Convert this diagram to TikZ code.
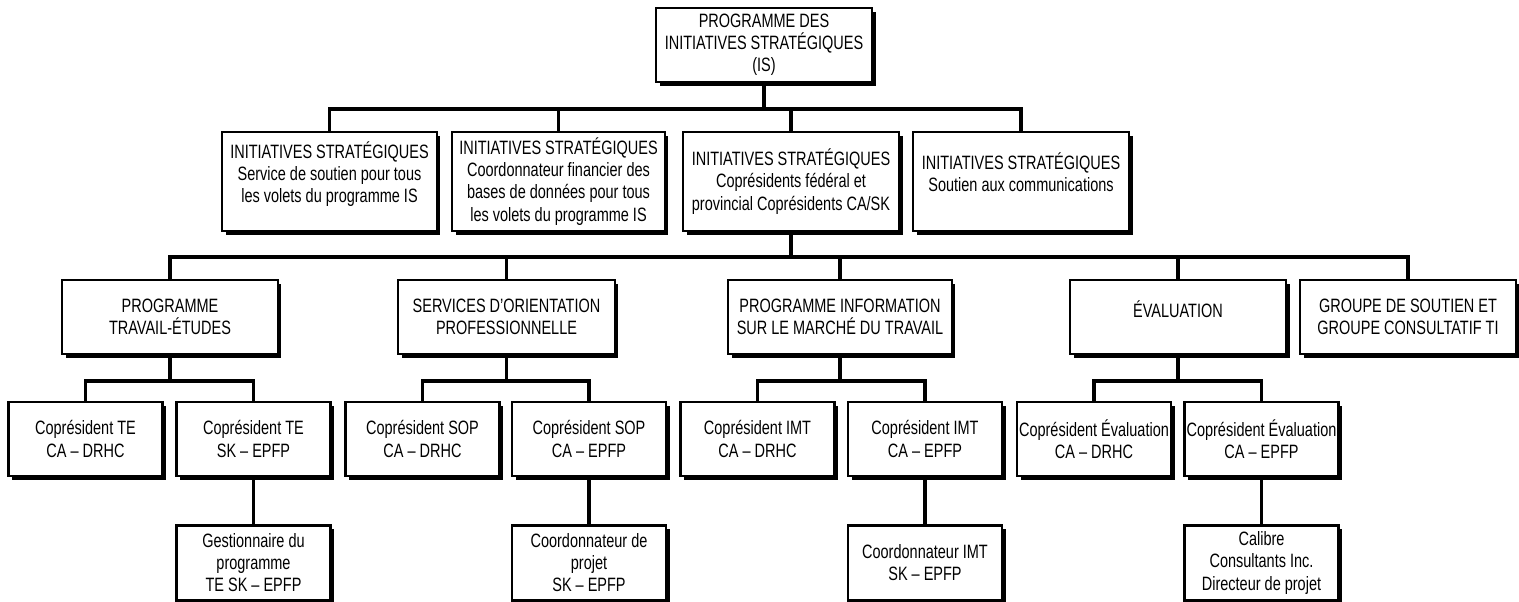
\documentclass[tikz,border=0pt]{standalone}
\usepackage{fontspec}
\setmainfont{Liberation Sans}[FakeStretch=0.75]
\usetikzlibrary{positioning,shadows}

\begin{document}
\begin{tikzpicture}[
    x=0.02cm, y=-0.02cm,
    font=\fontsize{11pt}{12.6pt}\selectfont,
    unit/.style={rectangle, draw=black, fill=white, line width=1.4pt, align=center, inner xsep=1pt, inner ysep=2pt,
        drop shadow={shadow xshift=2pt, shadow yshift=-2pt, fill=black, opacity=1}},
    chief/.style={unit, minimum width=4.32cm, minimum height=1.48cm},
    strand/.style={unit, minimum width=4.32cm, minimum height=1.98cm},
    stream/.style={unit, minimum width=4.32cm, minimum height=1.48cm},
    cochair/.style={unit, minimum width=3.08cm, minimum height=1.48cm},
    staff/.style={unit, minimum width=3.08cm, minimum height=1.5cm},
    link/.style={line width=2.2pt}
]
\useasboundingbox (0,0) rectangle (1519,602);

% Head of the programme
\node[chief] (is) at (764,45) {PROGRAMME DES\\INITIATIVES STRATÉGIQUES\\(IS)};

% Second level
\node[strand, minimum width=4.30cm] (supp) at (329.5,181.5) {INITIATIVES STRATÉGIQUES\\Service de soutien pour tous\\les volets du programme IS\\[-2pt]\mbox{}};
\node[strand, minimum width=4.26cm] (fin) at (558.5,181.5) {INITIATIVES STRATÉGIQUES\\Coordonnateur financier des\\bases de données pour tous\\les volets du programme IS};
\node[strand] (copres) at (791,181.5) {INITIATIVES STRATÉGIQUES\\Coprésidents fédéral et\\provincial Coprésidents CA/SK};
\node[strand] (comm) at (1021,181.5) {INITIATIVES STRATÉGIQUES\\Soutien aux communications\\[-2pt]\mbox{}};

% Programme streams
\node[stream] (te) at (170,317) {PROGRAMME\\TRAVAIL-ÉTUDES};
\node[stream, minimum width=4.34cm] (sop) at (506.5,317) {SERVICES D'ORIENTATION\\PROFESSIONNELLE};
\node[stream, minimum width=4.48cm] (imt) at (840,317) {PROGRAMME INFORMATION\\SUR LE MARCHÉ DU TRAVAIL};
\node[stream] (eval) at (1178,317) {ÉVALUATION\\[-4pt]\mbox{}};
\node[stream] (grp) at (1408,317) {GROUPE DE SOUTIEN ET\\GROUPE CONSULTATIF TI};

% Co-chairs
\node[cochair] (tedrhc) at (85.5,439) {Coprésident TE\\CA – DRHC};
\node[cochair] (teepfp) at (253.5,439) {Coprésident TE\\SK – EPFP};
\node[cochair] (sopdrhc) at (422.5,439) {Coprésident SOP\\CA – DRHC};
\node[cochair] (sopepfp) at (589,439) {Coprésident SOP\\CA – EPFP};
\node[cochair] (imtdrhc) at (757.5,439) {Coprésident IMT\\CA – DRHC};
\node[cochair] (imtepfp) at (925,439) {Coprésident IMT\\CA – EPFP};
\node[cochair] (evdrhc) at (1094,439) {Coprésident Évaluation\\CA – DRHC};
\node[cochair] (evepfp) at (1261.5,439) {Coprésident Évaluation\\CA – EPFP};

% Staff under the SK - EPFP co-chairs
\node[staff, below=0.94cm of teepfp] (gest) {Gestionnaire du\\programme\\TE SK – EPFP};
\node[staff, below=0.94cm of sopepfp] (coordsop) {Coordonnateur de\\projet\\SK – EPFP};
\node[staff, below=0.94cm of imtepfp] (coordimt) {Coordonnateur IMT\\SK – EPFP};
\node[staff, below=0.94cm of evepfp] (calibre) {Calibre\\Consultants Inc.\\Directeur de projet};

% Junctions
\coordinate (j1) at (764,109);
\coordinate (j2) at (791,257);
\coordinate (tebar) at (170,381);
\coordinate (sopbar) at (506.5,381);
\coordinate (imtbar) at (840,381);
\coordinate (evbar) at (1178,381);

% Tree lines
\draw[link] (is) -- (j1);
\draw[link] (supp) |- (j1) -| (comm);
\draw[link] (fin) -- (fin |- j1);
\draw[link] (copres) -- (copres |- j1);

\draw[link] (copres) -- (j2);
\draw[link] (te) |- (j2) -| (grp);
\draw[link] (sop) -- (sop |- j2);
\draw[link] (imt) -- (imt |- j2);
\draw[link] (eval) -- (eval |- j2);

\draw[link] (te) -- (tebar);
\draw[link] (tedrhc) |- (tebar) -| (teepfp);
\draw[link] (sop) -- (sopbar);
\draw[link] (sopdrhc) |- (sopbar) -| (sopepfp);
\draw[link] (imt) -- (imtbar);
\draw[link] (imtdrhc) |- (imtbar) -| (imtepfp);
\draw[link] (eval) -- (evbar);
\draw[link] (evdrhc) |- (evbar) -| (evepfp);

\draw[link] (teepfp) -- (gest);
\draw[link] (sopepfp) -- (coordsop);
\draw[link] (imtepfp) -- (coordimt);
\draw[link] (evepfp) -- (calibre);

\end{tikzpicture}
\end{document}
